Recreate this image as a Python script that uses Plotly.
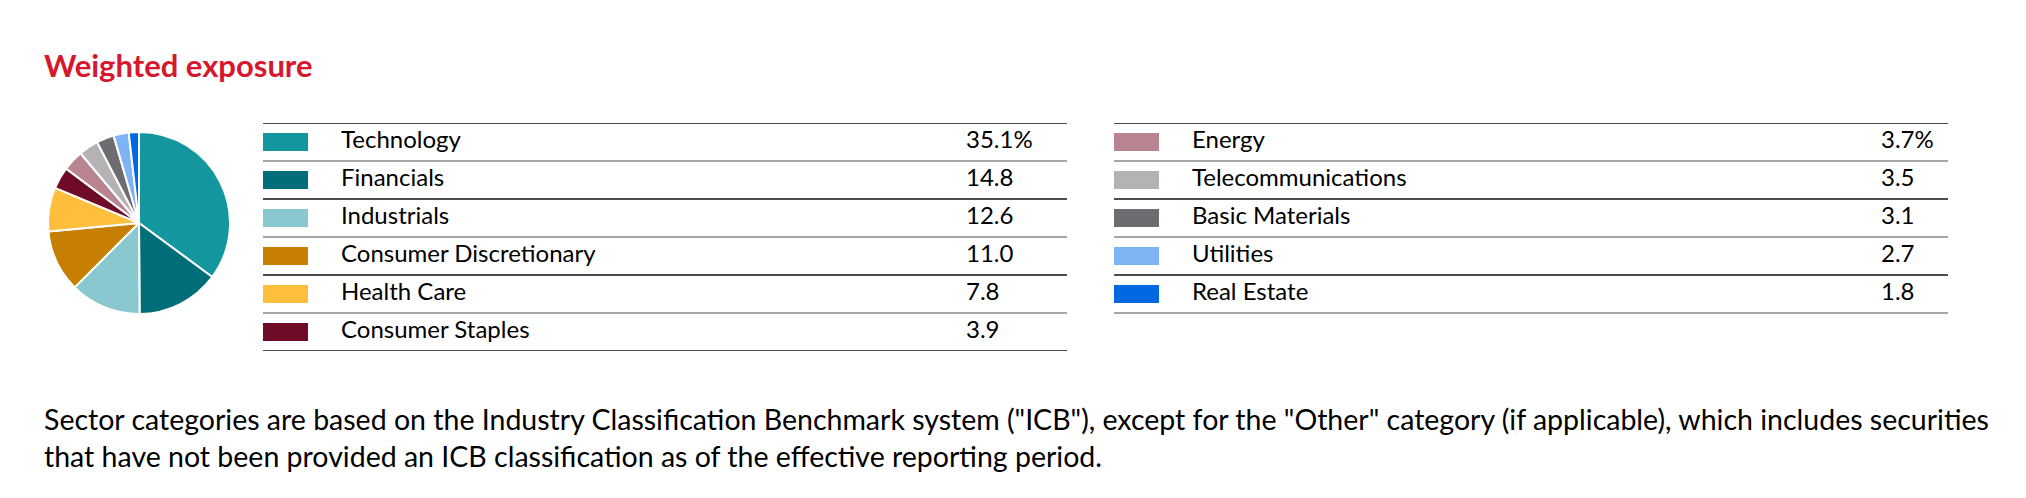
import plotly.graph_objects as go

# ── data ────────────────────────────────────────────────────────────────
left_sectors = ["Technology", "Financials", "Industrials",
                "Consumer Discretionary", "Health Care", "Consumer Staples"]
left_values = [35.1, 14.8, 12.6, 11.0, 7.8, 3.9]
left_colors = ["#13969e", "#006e78", "#88c8ce", "#c67f00", "#ffbe3c", "#6e0c28"]

right_sectors = ["Energy", "Telecommunications", "Basic Materials",
                 "Utilities", "Real Estate"]
right_values = [3.7, 3.5, 3.1, 2.7, 1.8]
right_colors = ["#b88490", "#b4b2b5", "#6e6c70", "#7eb4f4", "#0069e2"]

title_text = "Weighted exposure"
footnote = ('Sector categories are based on the Industry Classification Benchmark system ("ICB"), '
            'except for the "Other" category (if applicable), which includes securities<br>'
            'that have not been provided an ICB classification as of the effective reporting period.')

# page body has an 8px margin, so the figure is shrunk and positions offset
W, H = 2026, 498
OFF = 8
FW, FH = W - 2 * OFF, H - 2 * OFF
FONT = "Lato, 'Noto Sans', sans-serif"


def px_x(p):
    return (p - OFF) / FW


def px_y(p):
    return 1 - (p - OFF) / FH


fig = go.Figure()

# ── pie ─────────────────────────────────────────────────────────────────
cx, cy, r = 139, 223, 91
fig.add_trace(go.Pie(
    labels=left_sectors + right_sectors,
    values=left_values + right_values,
    marker=dict(colors=left_colors + right_colors, line=dict(color="white", width=2)),
    sort=False, direction="clockwise", rotation=0,
    textinfo="none", hoverinfo="label+value", showlegend=False,
    domain=dict(x=[px_x(cx - r), px_x(cx + r)], y=[px_y(cy + r), px_y(cy - r)]),
))

# ── tables (one invisible axis pair each) ───────────────────────────────
ROW_TOP, ROW_H = 123, 38
N_ROWS = len(left_sectors)
tables = [
    dict(sectors=left_sectors, values=left_values, colors=left_colors,
         x0=263, x1=1067, num_x=703, xa="x", ya="y", suffix=""),
    dict(sectors=right_sectors, values=right_values, colors=right_colors,
         x0=1114, x1=1948, num_x=767, xa="x2", ya="y2", suffix="2"),
]

SW_W, LABEL_X = 45, 78

for t in tables:
    n = len(t["sectors"])
    rows = list(range(n))
    # swatches
    fig.add_trace(go.Bar(
        x=[SW_W] * n, y=rows, base=0, orientation="h", width=0.47,
        marker=dict(color=t["colors"], line=dict(width=0)),
        xaxis=t["xa"], yaxis=t["ya"], showlegend=False, hoverinfo="skip",
    ))
    # labels
    fig.add_trace(go.Scatter(
        x=[LABEL_X] * n, y=rows, mode="text", text=t["sectors"],
        textposition="middle right", textfont=dict(family=FONT, size=24, color="#000"),
        xaxis=t["xa"], yaxis=t["ya"], showlegend=False, hoverinfo="skip",
    ))
    # values
    vals = [f"{v:.1f}%" if i == 0 else f"{v:.1f}" for i, v in enumerate(t["values"])]
    fig.add_trace(go.Scatter(
        x=[t["num_x"]] * n, y=rows, mode="text", text=vals,
        textposition="middle right", textfont=dict(family=FONT, size=24, color="#000"),
        xaxis=t["xa"], yaxis=t["ya"], showlegend=False, hoverinfo="skip",
    ))
    # row rules, alternating black / grey
    for k in range(n + 1):
        fig.add_shape(
            type="line", xref=f"{t['xa']} domain", yref=t["ya"],
            x0=0, x1=1, y0=k - 0.5, y1=k - 0.5,
            line=dict(color="#111" if k % 2 == 0 else "#8a8a8a", width=1.6),
        )

    ax = dict(domain=[px_x(t["x0"]), px_x(t["x1"])], range=[0, t["x1"] - t["x0"]],
              visible=False, fixedrange=True)
    ay = dict(domain=[px_y(ROW_TOP + N_ROWS * ROW_H), px_y(ROW_TOP)],
              range=[N_ROWS - 0.5, -0.5], visible=False, fixedrange=True)
    fig.update_layout(**{f"xaxis{t['suffix']}": ax, f"yaxis{t['suffix']}": ay})

fig.layout.yaxis2.anchor = "x2"
fig.layout.xaxis2.anchor = "y2"

# ── text ────────────────────────────────────────────────────────────────
fig.add_annotation(
    text=f"<b>{title_text}</b>", x=px_x(42), y=px_y(65), xref="paper", yref="paper",
    xanchor="left", yanchor="middle", showarrow=False,
    font=dict(family=FONT, size=31, color="#d6172e"),
)
fig.add_annotation(
    text=footnote, x=px_x(42), y=px_y(437), xref="paper", yref="paper",
    xanchor="left", yanchor="middle", align="left", showarrow=False,
    font=dict(family=FONT, size=28.5, color="#000"),
)

fig.update_layout(
    width=FW, height=FH, margin=dict(l=0, r=0, t=0, b=0),
    paper_bgcolor="white", plot_bgcolor="white",
    bargap=0, showlegend=False,
)

fig.write_html("out.html", config={"displayModeBar": False})
